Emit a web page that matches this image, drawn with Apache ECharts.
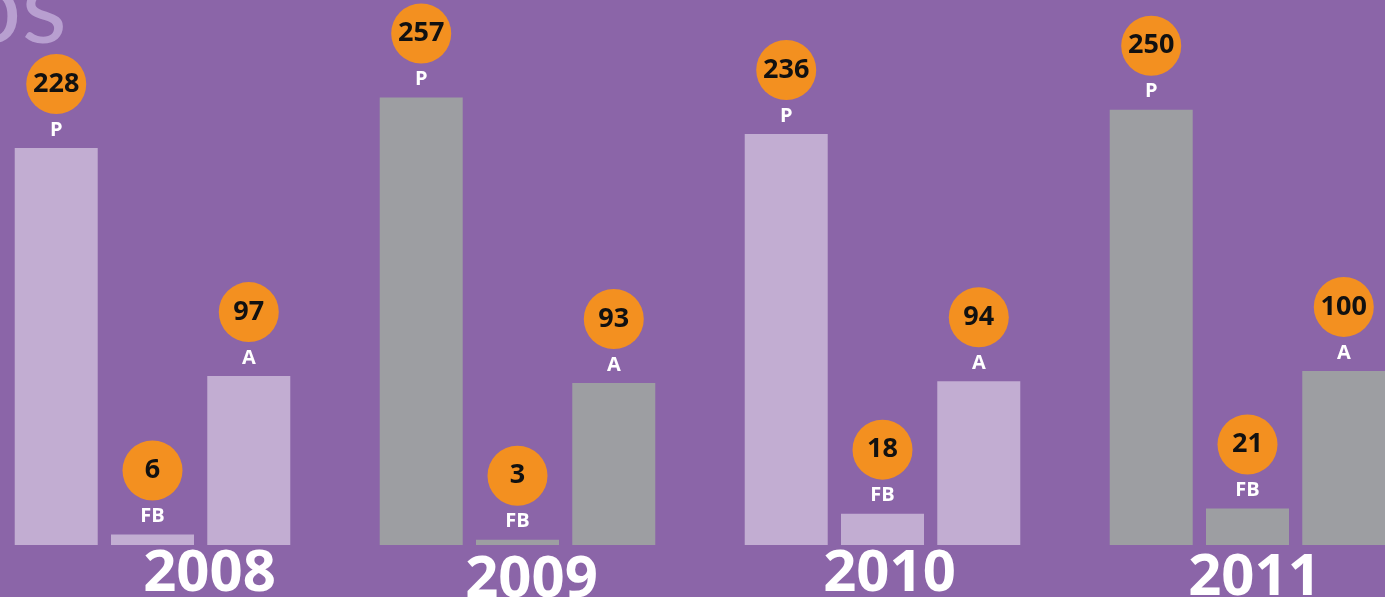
<!DOCTYPE html>
<html>
<head>
<meta charset="utf-8">
<script src="https://cdn.jsdelivr.net/npm/echarts@6/dist/echarts.min.js"></script>
<style>
  html, body { margin: 0; padding: 0; background: #8B65A8; }
  #chart { width: 1385px; height: 597px; }
</style>
</head>
<body>
<div id="chart"></div>
<script>
// Years and the three counts per year
const years = ['2008', '2009', '2010', '2011'];
const valuesP = [228, 257, 236, 250];
const valuesFB = [6, 3, 18, 21];
const valuesA = [97, 93, 94, 100];
const seriesNames = ['P', 'FB', 'A'];

const LIGHT = '#C2ADD2';
const GRAY = '#9D9EA2';
const ORANGE = '#F39020';

const chart = echarts.init(document.getElementById('chart'));

function barSeries(name, values) {
  return {
    name: name,
    type: 'bar',
    data: values,
    barWidth: 83,
    barGap: '16%',
    itemStyle: {
      color: p => (p.dataIndex % 2 === 0 ? LIGHT : GRAY)
    },
    label: {
      show: true,
      position: 'top',
      distance: 2,
      formatter: p => '{c|' + p.value + '}\n{n|' + name + '}',
      rich: {
        c: {
          width: 60,
          height: 60,
          lineHeight: 60,
          borderRadius: 30,
          backgroundColor: ORANGE,
          color: '#111',
          fontSize: 27,
          fontWeight: 'bold',
          fontFamily: 'Open Sans',
          align: 'center'
        },
        n: {
          color: '#fff',
          fontSize: 20,
          lineHeight: 32,
          fontWeight: 'bold',
          fontFamily: 'Open Sans',
          align: 'center'
        }
      }
    }
  };
}

// per-year label nudges (top, left padding)
const yearPadding = [[0, 114], [6, 28], [0, 14], [4, 14]];
const yearLabels = years.map((y, i) => ({
  value: y,
  textStyle: { padding: [yearPadding[i][0], 0, 0, yearPadding[i][1]] }
}));

chart.setOption({
  backgroundColor: '#8B65A8',
  animation: false,
  title: {
    text: 'os',
    left: -43,
    top: -48,
    textStyle: {
      color: '#B89FD0',
      fontSize: 105,
      fontWeight: 'normal',
      fontFamily: 'Lato'
    }
  },
  grid: { left: -30, right: -45, top: 0, bottom: 52, outerBoundsMode: 'none', containLabel: false },
  xAxis: {
    type: 'category',
    data: yearLabels,
    axisLine: { show: false },
    axisTick: { show: false },
    axisLabel: {
      color: '#fff',
      fontSize: 58,
      fontWeight: 'bold',
      fontFamily: 'Open Sans',
      margin: 0,
      verticalAlign: 'top'
    }
  },
  yAxis: {
    type: 'value',
    min: 0,
    max: 313,
    show: false,
    splitLine: { show: false }
  },
  series: [
    barSeries(seriesNames[0], valuesP),
    barSeries(seriesNames[1], valuesFB),
    barSeries(seriesNames[2], valuesA)
  ]
});
</script>
</body>
</html>
